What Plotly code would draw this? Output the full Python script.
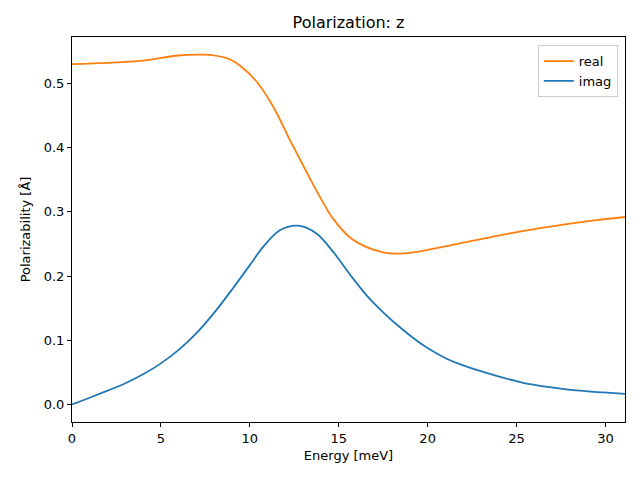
import plotly.graph_objects as go

energy_real = [0, 2, 4, 6, 7.2, 7.75, 8.87, 9.44, 10.38, 11.31, 12.25, 13.19, 14.13, 14.69, 15.63,
               16.57, 17.5, 18.26, 19.2, 20.13, 22, 22.94, 23.88, 25.76, 27.63, 29.5, 31.1]
real_vals = [0.530, 0.532, 0.5356, 0.5435, 0.5448, 0.5443, 0.5377, 0.528, 0.503, 0.464, 0.412,
             0.362, 0.314, 0.289, 0.260, 0.245, 0.237, 0.2348, 0.2368, 0.2415, 0.2520, 0.2572,
             0.2625, 0.2720, 0.280, 0.287, 0.292]

energy_imag = [0, 1, 2, 3, 4, 5, 6, 7, 8, 9, 10, 10.75, 11.69, 12.72, 13.75, 14.69, 15.63, 16.57,
               17.5, 18.26, 19.19, 20.13, 21.07, 22.0, 23.88, 25.38, 26.88, 28.38, 29.88, 31.1]
imag_vals = [0.0, 0.0105, 0.0215, 0.033, 0.047, 0.064, 0.085, 0.111, 0.143, 0.179, 0.217, 0.2454,
             0.2714, 0.2785, 0.2663, 0.2376, 0.2025, 0.170, 0.1435, 0.1245, 0.1035, 0.0855, 0.0713,
             0.0608, 0.0445, 0.0338, 0.027, 0.0218, 0.0187, 0.0166]

x_ticks = [0, 5, 10, 15, 20, 25, 30]
y_ticks = [0.0, 0.1, 0.2, 0.3, 0.4, 0.5]

font = "DejaVu Sans"

fig = go.Figure()
fig.add_trace(go.Scatter(x=energy_real, y=real_vals, mode="lines", name="real",
                         line=dict(color="#ff7f0e", width=1.8, shape="spline", smoothing=1.0)))
fig.add_trace(go.Scatter(x=energy_imag, y=imag_vals, mode="lines", name="imag",
                         line=dict(color="#1f77b4", width=1.8, shape="spline", smoothing=1.0)))

axis_common = dict(showgrid=False, zeroline=False, showline=True, linecolor="black", linewidth=1,
                   mirror=True, ticks="outside", ticklen=4, tickwidth=1, tickcolor="black",
                   automargin=False,
                   tickfont=dict(family=font, size=13, color="black"))

fig.update_layout(
    width=640, height=480,
    margin=dict(l=64, r=23, t=29, b=66),
    paper_bgcolor="white", plot_bgcolor="white",
    title=dict(text="Polarization: z", x=0.5, xanchor="center", xref="paper", y=0.969, yanchor="middle",
               font=dict(family=font, size=16, color="black")),
    font=dict(family=font, size=13, color="black"),
    xaxis=dict(range=[0, 31.1], tickvals=x_ticks, ticktext=[str(v) for v in x_ticks],
               title=dict(text="Energy [meV]", font=dict(family=font, size=13), standoff=6), **axis_common),
    yaxis=dict(range=[-0.0273, 0.5723], tickvals=y_ticks, ticktext=[f"{v:.1f}" for v in y_ticks],
               title=dict(text="Polarizability [Å]", font=dict(family=font, size=13), standoff=10), **axis_common),
    legend=dict(x=0.987, y=0.979, xanchor="right", yanchor="top", bgcolor="rgba(255,255,255,0.8)",
                bordercolor="#cccccc", borderwidth=1, font=dict(family=font, size=13),
                tracegroupgap=0, itemwidth=30),
    showlegend=True,
)

fig.write_html("out.html")
